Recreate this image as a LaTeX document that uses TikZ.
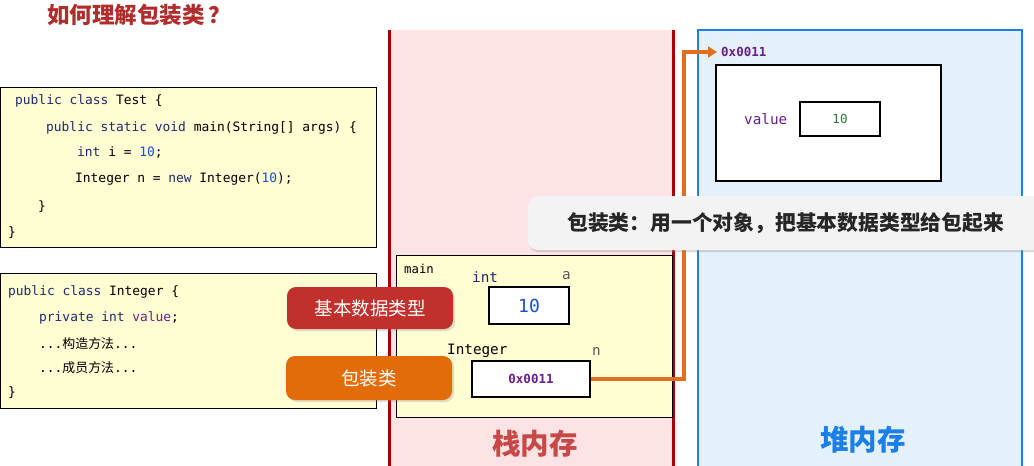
\documentclass[tikz,border=0pt]{standalone}
\usepackage{fontspec}
\setmonofont{DejaVu Sans Mono}
\newfontfamily\cjk{Noto Sans CJK SC}
\usetikzlibrary{shadows,arrows.meta}
\definecolor{titlered}{HTML}{B22C2C}
\definecolor{stackfill}{HTML}{FDE3E4}
\definecolor{stackline}{HTML}{A80000}
\definecolor{stacktext}{HTML}{C84848}
\definecolor{heapfill}{HTML}{E4F1FD}
\definecolor{heapline}{HTML}{1A7FE6}
\definecolor{codefill}{HTML}{FFFDD2}
\definecolor{kw}{HTML}{1E2A6E}
\definecolor{num}{HTML}{1A4FD0}
\definecolor{purp}{HTML}{6A1E8A}
\definecolor{grn}{HTML}{2A7A3A}
\definecolor{pillred}{HTML}{C0302C}
\definecolor{pillorange}{HTML}{E36C0A}
\definecolor{arrowor}{HTML}{E07020}
\definecolor{calloutfill}{HTML}{F3F3F3}
\tikzset{
  code/.style={anchor=west, inner sep=0pt, font=\ttfamily\fontsize{12.9}{14}\selectfont},
  codebox/.style={draw=black, line width=0.9pt, fill=codefill},
  cell/.style={draw=black, line width=1.6pt, fill=white, inner sep=0pt},
  pill/.style={rounded corners=9pt, text=white, minimum width=166pt, inner sep=0pt,
     font=\cjk\fontsize{18.5}{21}\selectfont,
     drop shadow={opacity=0.25, shadow xshift=2pt, shadow yshift=-2pt}},
  memlbl/.style={inner sep=0pt, font=\ttfamily\fontsize{14.3}{16}\selectfont},
}
\begin{document}
\begin{tikzpicture}[x=1pt,y=-1pt]
\useasboundingbox (0,0) rectangle (1034,466);
\fill[white] (0,0) rectangle (1034,466);
% title
\node[anchor=west, inner sep=0pt, text=titlered, font=\cjk\bfseries\fontsize{22.5}{25}\selectfont] (title) at (47,15) {如何理解包装类\,？};
% stack region
\fill[stackfill] (389,30) rectangle (673,470);
\draw[stackline, line width=3pt] (389,30) -- (389,470);
\draw[stackline, line width=3pt] (673,30) -- (673,470);
\node[text=stacktext, font=\cjk\bfseries\fontsize{28.5}{32}\selectfont, inner sep=0pt] (stacklbl) at (535,444) {栈内存};
% heap region
\draw[heapline, fill=heapfill, line width=2.5pt] (698,30) rectangle (1022,480);
\node[text=heapline, font=\cjk\bfseries\fontsize{28.5}{32}\selectfont, inner sep=0pt] (heaplbl) at (863,440) {堆内存};
% code box 1
\draw[codebox] (0.5,87) rectangle (376,247);
\node[code] (c1) at (15,101) {\textcolor{kw}{public class} Test \{};
\node[code] (c2) at (46,128) {\textcolor{kw}{public static void} main(String[] args) \{};
\node[code] (c3) at (77,153) {\textcolor{kw}{int} i = \textcolor{num}{10};};
\node[code] (c4) at (75,179) {Integer n = \textcolor{kw}{new} Integer(\textcolor{num}{10});};
\node[code] (c5) at (38,207) {\}};
\node[code] (c6) at (8,233) {\}};
% code box 2
\draw[codebox] (0.5,273) rectangle (376,408);
\node[code] (d1) at (8,292) {\textcolor{kw}{public class} Integer \{};
\node[code] (d2) at (39,318) {\textcolor{kw}{private int} \textcolor{purp}{value};};
\node[code] (d3) at (39,344) {...{\cjk 构造方法}...};
\node[code] (d4) at (39,368) {...{\cjk 成员方法}...};
\node[code] (d5) at (8,393) {\}};
% main frame
\draw[black, line width=0.9pt, fill=codefill] (396,255) rectangle (672,417);
\node[anchor=west, inner sep=0pt, font=\ttfamily\fontsize{12.3}{14}\selectfont] (mainlbl) at (404,269) {main};
\node[memlbl, text=kw, anchor=west] (intlbl) at (472,277) {int};
\node[memlbl, text=black!65, anchor=west] (albl) at (562,276) {a};
\node[cell, minimum width=80pt, minimum height=37pt, text=num, font=\ttfamily\fontsize{18}{20}\selectfont] (abox) at (529,305.5) {10};
\node[memlbl, anchor=west] (intglbl) at (447,351) {Integer};
\node[memlbl, text=black!65, anchor=west] (nlbl) at (592,351) {n};
\node[cell, minimum width=118pt, minimum height=36pt, text=purp, font=\ttfamily\bfseries\fontsize{12.5}{14}\selectfont] (nbox) at (531,379) {0x0011};
% heap object
\node[anchor=west, inner sep=0pt, text=purp, font=\ttfamily\bfseries\fontsize{12.5}{14}\selectfont] (addr) at (721,52) {0x0011};
\draw[black, line width=1.6pt, fill=white] (716,65) rectangle (941,181);
\node[memlbl, text=purp, anchor=west] (vallbl) at (744,119) {value};
\node[cell, line width=1.2pt, minimum width=80pt, minimum height=34pt, text=grn, font=\ttfamily\fontsize{12.5}{14}\selectfont] (vbox) at (840,119) {10};
% arrow
\draw[arrowor, line width=3.5pt, -{Triangle[length=9pt,width=11pt]}] (nbox.east) -- (684,379) -- (684,52) -- ([xshift=-4pt]addr.west);
% pills
\node[pill, fill=pillred, minimum height=42pt] (p1) at (370,308) {基本数据类型};
\node[pill, fill=pillorange, minimum height=44pt] (p2) at (369,378) {包装类};
% callout
\node[anchor=west, fill=calloutfill, rounded corners=9pt, minimum width=520pt, minimum height=54pt, inner sep=0pt,
  drop shadow={opacity=0.3, shadow xshift=1pt, shadow yshift=-2pt}] (callbg) at (528,223) {};
\node[anchor=west, inner sep=0pt, text=black!85, font=\cjk\bfseries\fontsize{20.8}{23}\selectfont] (callout) at (567,223) {包装类：用一个对象，把基本数据类型给包起来};
\end{tikzpicture}
\end{document}
